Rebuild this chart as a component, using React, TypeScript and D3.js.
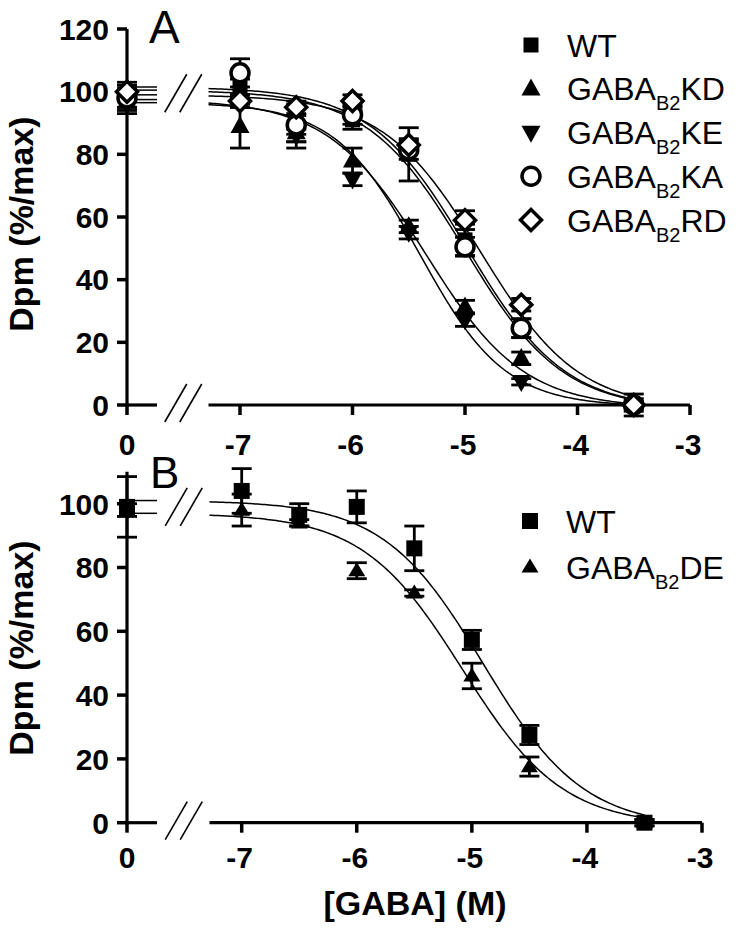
import React from 'react';
import * as d3 from 'd3';

const FONT = "'Liberation Sans', Arial, Helvetica, sans-serif";

// ---------- shared ----------
const logDoses = [-7, -6.5, -6, -5.5, -5, -4.5, -3.5];
const xTickValues = [-7, -6, -5, -4, -3];
const xZeroLabel = '0';

// ---------- Panel A data ----------
const aNames = ['WT', 'KD', 'KE', 'KA', 'RD'];
const aKinds = ['square', 'triUp', 'triDown', 'circle', 'diamond'];
const aZeroVal = [98, 97, 96, 98, 100];
const aZeroErr = [5, 2, 2, 3, 2];
const aWT = [101, 89, 91, 80, 52.7, 24.5, 0];
const aWTerr = [3, 7, 3, 8.5, 5, 3, 2];
const aKD = [89, 87, 78, 57, 31.4, 14.9, 0];
const aKDerr = [7, 3, 4, 2, 2, 2, 1];
const aKE = [97, 86, 72, 55, 27.1, 7.4, 0];
const aKEerr = [2, 2, 2, 2, 2, 1, 1];
const aKA = [106, 89.4, 92.6, 81.4, 50.5, 24.5, 0];
const aKAerr = [4.5, 3, 3, 3, 3, 3, 3.5];
const aRD = [97, 95, 97, 83, 59, 32, 0];
const aRDerr = [2, 2, 2, 2, 3, 2, 1];
const aFitTop = [100.5, 97.5, 96.5, 101.5, 99];
const aFitBottom = [-1.5, -1, -0.5, -1.5, -1.5];
const aFitLogIC50 = [-5.0, -5.35, -5.4, -4.98, -4.86];
const aFitHill = [1, 1, 1.15, 1, 1];
const aYTicks = [0, 20, 40, 60, 80, 100, 120];

// ---------- Panel B data ----------
const bNames = ['WT', 'DE'];
const bKinds = ['square', 'triUp'];
const bZeroVal = [99, 98];
const bZeroErr = [9.5, 2];
const bWT = [104, 96.5, 99, 86, 57.3, 27.5, 0];
const bWTerr = [7, 3.5, 5, 7, 3, 3, 1];
const bDE = [98, 94, 79, 72, 46, 17.6, 0];
const bDEerr = [5, 1, 2.5, 1, 4, 3, 1];
const bFitTop = [101, 97];
const bFitBottom = [-1.5, -1];
const bFitLogIC50 = [-4.9, -5.08];
const bFitHill = [1, 1];
const bYTicks = [0, 20, 40, 60, 80, 100];

const hill = (x: number, top: number, bottom: number, ic: number, h: number) =>
  bottom + (top - bottom) / (1 + Math.pow(10, (x - ic) * h));

function Marker({ kind, x, y, big }: { kind: string; x: number; y: number; big: boolean }) {
  if (kind === 'square') {
    const s = big ? 15 : 16;
    return <rect x={x - s / 2} y={y - s / 2} width={s} height={s} fill="#000" />;
  }
  if (kind === 'triUp' || kind === 'triDown') {
    const w = big ? 19 : 17;
    const h = big ? 17 : 14;
    const d = kind === 'triUp'
      ? `M${x},${y - h * 0.6}L${x + w / 2},${y + h * 0.4}L${x - w / 2},${y + h * 0.4}Z`
      : `M${x},${y + h * 0.6}L${x + w / 2},${y - h * 0.4}L${x - w / 2},${y - h * 0.4}Z`;
    return <path d={d} fill="#000" />;
  }
  if (kind === 'circle') {
    return <circle cx={x} cy={y} r={9} fill="#fff" stroke="#000" strokeWidth={3.5} />;
  }
  const r = 10.5;
  return (
    <path d={`M${x},${y - r}L${x + r},${y}L${x},${y + r}L${x - r},${y}Z`} fill="#fff" stroke="#000" strokeWidth={3.5} />
  );
}

function ErrBar({ x, y1, y2 }: { x: number; y1: number; y2: number }) {
  const cw = 10;
  return (
    <g stroke="#000" strokeWidth={2.8}>
      <line x1={x} x2={x} y1={y1} y2={y2} />
      <line x1={x - cw} x2={x + cw} y1={y1} y2={y1} />
      <line x1={x - cw} x2={x + cw} y1={y2} y2={y2} />
    </g>
  );
}

type PanelProps = {
  yScale: d3.ScaleLinear<number, number>;
  xScale: d3.ScaleLinear<number, number>;
  yTicks: number[];
  yAxisTop: number;
  xStart: number;
  xEnd: number;
  zeroX: number;
  series: number[][];
  errs: number[][];
  zeroVal: number[];
  zeroErr: number[];
  kinds: string[];
  fitTop: number[];
  fitBottom: number[];
  fitIC: number[];
  fitH: number[];
  breakTopVal: number;
  xLabelBaseline: number;
  panelLabel: string;
  panelLabelX: number;
  panelLabelY: number;
  panelLabelSize: number;
  yTitleY: number;
  big: boolean;
};

function Panel(p: PanelProps) {
  const { yScale, xScale } = p;
  const y0 = yScale(0);
  const leftEnd = p.zeroX + 30;
  const mainStart = xScale(p.xStart);
  const breakCx = (leftEnd + mainStart) / 2;
  const grid = d3.range(p.xStart, -3.5 + 1e-9, 0.02);
  const breakMark = (cy: number, key: string) => (
    <g key={key} stroke="#000" strokeWidth={1.6}>
      <line x1={breakCx - 18} y1={cy + 19} x2={breakCx + 4} y2={cy - 19} />
      <line x1={breakCx - 3} y1={cy + 19} x2={breakCx + 19} y2={cy - 19} />
    </g>
  );
  return (
    <g>
      {/* y axis */}
      <line x1={p.zeroX} x2={p.zeroX} y1={yScale(p.yAxisTop)} y2={y0} stroke="#000" strokeWidth={3.2} />
      {p.yTicks.map((t) => (
        <g key={'yt' + t}>
          <line x1={p.zeroX - 10} x2={p.zeroX} y1={yScale(t)} y2={yScale(t)} stroke="#000" strokeWidth={3.5} />
          <text x={p.zeroX - 18} y={yScale(t)} dy="0.36em" textAnchor="end" fontFamily={FONT} fontWeight="bold" fontSize={30}>
            {t}
          </text>
        </g>
      ))}
      {/* x axis: zero segment */}
      <line x1={p.zeroX} x2={leftEnd} y1={y0} y2={y0} stroke="#000" strokeWidth={3.2} />
      <line x1={p.zeroX} x2={p.zeroX} y1={y0} y2={y0 + 10} stroke="#000" strokeWidth={3.5} />
      <text x={p.zeroX} y={p.xLabelBaseline} textAnchor="middle" fontFamily={FONT} fontWeight="bold" fontSize={30}>
        {xZeroLabel}
      </text>
      {/* x axis: main segment */}
      <line x1={mainStart} x2={xScale(p.xEnd)} y1={y0} y2={y0} stroke="#000" strokeWidth={3.2} />
      {xTickValues.map((t) => (
        <g key={'xt' + t}>
          <line x1={xScale(t)} x2={xScale(t)} y1={y0} y2={y0 + 10} stroke="#000" strokeWidth={3.5} />
          <text x={xScale(t) - 2} y={p.xLabelBaseline} textAnchor="middle" fontFamily={FONT} fontWeight="bold" fontSize={30}>
            {t}
          </text>
        </g>
      ))}
      {breakMark(y0 - 2, 'b1')}
      {breakMark(yScale(p.breakTopVal), 'b2')}
      {/* fitted curves */}
      {p.fitTop.map((top, i) => {
        const f = (x: number) => hill(x, top, p.fitBottom[i], p.fitIC[i], p.fitH[i]);
        const path = d3.line<number>().x((x) => xScale(x)).y((x) => yScale(f(x)))(grid) || '';
        return (
          <g key={'fit' + i}>
            <path d={path} fill="none" stroke="#000" strokeWidth={1.5} />
            <line x1={p.zeroX} x2={leftEnd} y1={yScale(f(-9))} y2={yScale(f(-9))} stroke="#000" strokeWidth={1.5} />
          </g>
        );
      })}
      {/* error bars */}
      {p.series.map((vals, i) => (
        <g key={'eb' + i}>
          <ErrBar x={p.zeroX} y1={yScale(p.zeroVal[i] + p.zeroErr[i])} y2={yScale(p.zeroVal[i] - p.zeroErr[i])} />
          {vals.map((v, j) => (
            <ErrBar key={j} x={xScale(logDoses[j])} y1={yScale(v + p.errs[i][j])} y2={yScale(v - p.errs[i][j])} />
          ))}
        </g>
      ))}
      {/* markers */}
      {p.series.map((vals, i) => (
        <g key={'mk' + i}>
          <Marker kind={p.kinds[i]} x={p.zeroX} y={yScale(p.zeroVal[i])} big={p.big} />
          {vals.map((v, j) => (
            <Marker key={j} kind={p.kinds[i]} x={xScale(logDoses[j])} y={yScale(v)} big={p.big} />
          ))}
        </g>
      ))}
      {/* y title */}
      <text
        transform={`translate(33,${p.yTitleY}) rotate(-90)`}
        textAnchor="middle"
        fontFamily={FONT}
        fontWeight="bold"
        fontSize={34}
      >
        Dpm (%/max)
      </text>
      <text x={p.panelLabelX} y={p.panelLabelY} fontFamily={FONT} fontSize={p.panelLabelSize}>
        {p.panelLabel}
      </text>
    </g>
  );
}

function LegendRow({ kind, label, x, y, big, sub }: { kind: string; label: string; x: number; y: number; big: boolean; sub: boolean }) {
  return (
    <g>
      <Marker kind={kind} x={x} y={y} big={big} />
      <text x={x + 36} y={y + 11.5} fontFamily={FONT} fontSize={32}>
        {sub ? (
          <>
            GABA
            <tspan fontSize={20} dy={10}>B2</tspan>
            <tspan dy={-10}>{label}</tspan>
          </>
        ) : (
          label
        )}
      </text>
    </g>
  );
}

export default function App() {
  const yA = d3.scaleLinear().domain([0, 120]).range([405, 29]);
  const xA = d3.scaleLinear().domain([-7, -3]).range([240, 690]);
  const yB = d3.scaleLinear().domain([0, 100]).range([822.7, 503.7]);
  const xB = d3.scaleLinear().domain([-7, -3]).range([241.7, 702]);

  const aSeries = [aWT, aKD, aKE, aKA, aRD];
  const aErrs = [aWTerr, aKDerr, aKEerr, aKAerr, aRDerr];
  const bSeries = [bWT, bDE];
  const bErrs = [bWTerr, bDEerr];

  const legA = d3.scaleLinear().domain([0, 4]).range([45, 220]);
  const legB = d3.scaleLinear().domain([0, 1]).range([521, 567]);

  return (
    <svg width={743} height={931} style={{ position: 'absolute', left: 0, top: 0, background: '#fff' }}>
      <rect width={743} height={931} fill="#fff" />
      <Panel
        yScale={yA}
        xScale={xA}
        yTicks={aYTicks}
        yAxisTop={120}
        xStart={-7.28}
        xEnd={-3}
        zeroX={127}
        series={aSeries}
        errs={aErrs}
        zeroVal={aZeroVal}
        zeroErr={aZeroErr}
        kinds={aKinds}
        fitTop={aFitTop}
        fitBottom={aFitBottom}
        fitIC={aFitLogIC50}
        fitH={aFitHill}
        breakTopVal={99.5}
        xLabelBaseline={455}
        panelLabel="A"
        panelLabelX={149}
        panelLabelY={43}
        panelLabelSize={46}
        yTitleY={224}
        big={true}
      />
      <Panel
        yScale={yB}
        xScale={xB}
        yTicks={bYTicks}
        yAxisTop={110}
        xStart={-7.28}
        xEnd={-3}
        zeroX={127}
        series={bSeries}
        errs={bErrs}
        zeroVal={bZeroVal}
        zeroErr={bZeroErr}
        kinds={bKinds}
        fitTop={bFitTop}
        fitBottom={bFitBottom}
        fitIC={bFitLogIC50}
        fitH={bFitHill}
        breakTopVal={99}
        xLabelBaseline={868}
        panelLabel="B"
        panelLabelX={150}
        panelLabelY={488}
        panelLabelSize={44}
        yTitleY={648}
        big={false}
      />
      {aNames.map((n, i) => (
        <LegendRow key={'la' + n} kind={aKinds[i]} label={n} x={531} y={legA(i)} big={true} sub={i > 0} />
      ))}
      {bNames.map((n, i) => (
        <LegendRow key={'lb' + n} kind={bKinds[i]} label={n} x={530} y={legB(i)} big={false} sub={i > 0} />
      ))}
      <text x={415} y={915} textAnchor="middle" fontFamily={FONT} fontWeight="bold" fontSize={34}>
        [GABA] (M)
      </text>
    </svg>
  );
}
